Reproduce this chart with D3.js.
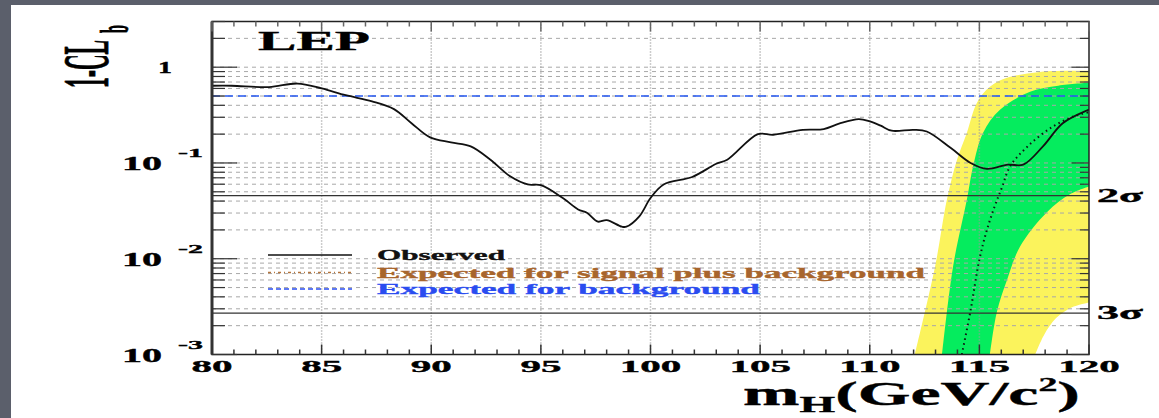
<!DOCTYPE html>
<html>
<head>
<meta charset="utf-8">
<script src="https://cdn.jsdelivr.net/npm/d3@7"></script>
<style>
  body { margin: 0; background: #5b5f6b; }
  text { font-family: "Liberation Serif", "DejaVu Serif", serif; font-weight: bold; stroke: #000; stroke-width: 0.35px; }
</style>
</head>
<body>
<div id="graph"></div>
<script>
// LEP 1-CLb vs Higgs mass

// observed 1-CLb
const obsMass = [80.0, 80.9, 82.6, 83.9, 85.0, 86.1, 87.3, 88.3, 89.1, 89.95, 90.9, 91.8, 92.7, 93.6, 94.4, 95.0,
    96.0, 96.7, 97.1, 97.6, 98.0, 98.7, 98.9, 99.5, 100.0, 100.6, 101.9, 103.0, 103.5, 104.9, 105.6, 106.95,
    107.9, 108.6, 109.5, 110.0, 110.5, 111.0, 112.0, 112.6, 113.7, 114.6, 115.35, 116.3, 117.0, 117.9, 118.8, 119.9, 120.0];
const obsCLb = [0.64, 0.64, 0.62, 0.675, 0.60, 0.51, 0.44, 0.365, 0.26, 0.185, 0.164, 0.149, 0.108, 0.0725, 0.0596, 0.0586,
    0.043, 0.0327, 0.0302, 0.0244, 0.0253, 0.0216, 0.0216, 0.0279, 0.043, 0.0597, 0.0714, 0.098, 0.108, 0.20, 0.197, 0.222,
    0.226, 0.257, 0.287, 0.272, 0.245, 0.217, 0.222, 0.213, 0.143, 0.10, 0.0867, 0.096, 0.096, 0.149, 0.26, 0.353, 0.36];

// expected for signal plus background
const sbMass = [114.2, 114.6, 115.0, 115.35, 115.7, 116.03, 116.4, 117.2, 118.35, 119.3, 120.0];
const sbCLb = [0.001, 0.0029, 0.0098, 0.0202, 0.0354, 0.0555, 0.092, 0.149, 0.24, 0.306, 0.34];

// expected for background
const bkgCLb = 0.5;

// 2 sigma band (yellow): left/top edge and right/bottom edge
const yellowLeftMass = [112.06, 112.98, 113.52, 113.98, 114.43, 114.89, 115.48, 116.26, 117.76, 120.0];
const yellowLeftCLb = [0.001, 0.0083, 0.0415, 0.108, 0.207, 0.425, 0.624, 0.774, 0.893, 0.915];
const yellowRightMass = [117.55, 117.95, 118.5, 119.2, 120.0];
const yellowRightCLb = [0.001, 0.0016, 0.0024, 0.0031, 0.0035];

// 1 sigma band (green)
const greenLeftMass = [113.3, 113.8, 114.43, 114.71, 115.17, 115.94, 117.31, 118.6, 120.0];
const greenLeftCLb = [0.001, 0.0083, 0.0415, 0.0915, 0.207, 0.359, 0.553, 0.64, 0.686];
const greenRightMass = [115.48, 115.8, 116.26, 116.85, 118.08, 119.13, 120.0];
const greenRightCLb = [0.001, 0.0028, 0.006, 0.0133, 0.0305, 0.047, 0.0567];

const sigmaCLb = [0.0455, 0.0027];
const sigmaLabels = ["2σ", "3σ"];

const xMajorTicks = [80, 85, 90, 95, 100, 105, 110, 115, 120];
const yMajorTicks = [0.001, 0.01, 0.1, 1];
const yTickSup = ["-3", "-2", "-1", ""];

const legendLabels = ["Observed", "Expected for signal plus background", "Expected for background"];

const width = 1159, height = 418;
const plot = {left: 212, right: 1089, top: 21.5, bottom: 354.5};

let svg = d3.select("#graph")
    .append("svg")
    .attr("width", width)
    .attr("height", height);

// white page on the gray slide
svg.append("rect").attr("x", 11).attr("y", 5).attr("width", width - 11).attr("height", height - 5).attr("fill", "#fff");

let x = d3.scaleLinear().domain([80, 120]).range([plot.left, plot.right]);
let y = d3.scaleLog().domain([0.001, 3]).range([plot.bottom, plot.top]);

svg.append("clipPath").attr("id", "clip")
    .append("rect")
    .attr("x", plot.left).attr("y", plot.top)
    .attr("width", plot.right - plot.left).attr("height", plot.bottom - plot.top);

let inner = svg.append("g").attr("clip-path", "url(#clip)");

let crLine = d3.line().x(d => x(d[0])).y(d => y(d[1])).curve(d3.curveCatmullRom);

function bandPath(lm, lv, rm, rv) {
    let left = lm.map((m, i) => [m, lv[i]]);
    let right = rm.map((m, i) => [m, rv[i]]).reverse();
    return crLine(left) + crLine(right).replace(/^M/, "L") + "Z";
}

inner.append("path")
    .attr("d", bandPath(yellowLeftMass, yellowLeftCLb, yellowRightMass, yellowRightCLb))
    .attr("fill", "#fbf35c");
inner.append("path")
    .attr("d", bandPath(greenLeftMass, greenLeftCLb, greenRightMass, greenRightCLb))
    .attr("fill", "#05ec5e");

// minor log ticks
let yMinor = [];
for (let p = -3; p <= 0; p++) {
    for (let k = 2; k <= 9; k++) {
        let v = k * Math.pow(10, p);
        if (v <= 3) yMinor.push(v);
    }
}

// horizontal grid
inner.selectAll(".hgrid")
    .data(yMajorTicks.concat(yMinor))
    .enter().append("line")
    .attr("x1", plot.left).attr("x2", plot.right)
    .attr("y1", d => y(d)).attr("y2", d => y(d))
    .attr("stroke", "#a8a8a8").attr("stroke-width", 1)
    .attr("stroke-dasharray", "4,4");

// vertical grid
inner.selectAll(".vgrid")
    .data(xMajorTicks.slice(1, -1))
    .enter().append("line")
    .attr("x1", d => x(d)).attr("x2", d => x(d))
    .attr("y1", plot.top).attr("y2", plot.bottom)
    .attr("stroke", "#999").attr("stroke-width", 1.5)
    .attr("stroke-dasharray", "1,2");

// sigma lines
inner.selectAll(".sigma")
    .data(sigmaCLb)
    .enter().append("line")
    .attr("x1", plot.left).attr("x2", plot.right)
    .attr("y1", d => y(d)).attr("y2", d => y(d))
    .attr("stroke", "#333").attr("stroke-width", 1.2);

// background expectation
inner.append("line")
    .attr("x1", plot.left).attr("x2", plot.right)
    .attr("y1", y(bkgCLb)).attr("y2", y(bkgCLb))
    .attr("stroke", "#2457f0").attr("stroke-width", 1.3)
    .attr("stroke-dasharray", "8,5");

// signal plus background expectation (dotted)
inner.append("path")
    .attr("d", crLine(sbMass.map((m, i) => [m, sbCLb[i]])))
    .attr("fill", "none").attr("stroke", "#111").attr("stroke-width", 2)
    .attr("stroke-dasharray", "1.5,3.5");

// observed
inner.append("path")
    .attr("d", crLine(obsMass.map((m, i) => [m, obsCLb[i]])))
    .attr("fill", "none").attr("stroke", "#111").attr("stroke-width", 1.8);

// frame
svg.append("rect")
    .attr("x", plot.left).attr("y", plot.top)
    .attr("width", plot.right - plot.left).attr("height", plot.bottom - plot.top)
    .attr("fill", "none").attr("stroke", "#222").attr("stroke-width", 1.5);
svg.append("line")
    .attr("x1", plot.left).attr("x2", plot.left)
    .attr("y1", plot.top).attr("y2", plot.bottom)
    .attr("stroke", "#333").attr("stroke-width", 3);

// y ticks left and right
let yTicks = yMajorTicks.map(v => ({v: v, len: 25})).concat(yMinor.map(v => ({v: v, len: 13})));
svg.selectAll(".ytickL").data(yTicks).enter().append("line")
    .attr("x1", plot.left).attr("x2", d => plot.left + d.len)
    .attr("y1", d => y(d.v)).attr("y2", d => y(d.v))
    .attr("stroke", "#333").attr("stroke-width", 1.2);
svg.selectAll(".ytickR").data(yTicks).enter().append("line")
    .attr("x1", plot.right).attr("x2", d => plot.right - d.len * 0.7)
    .attr("y1", d => y(d.v)).attr("y2", d => y(d.v))
    .attr("stroke", "#333").attr("stroke-width", 1.2);

// x ticks bottom and top
let xTicks = d3.range(80, 121).map(m => ({m: m, len: m % 5 === 0 ? 10 : 5}));
svg.selectAll(".xtickB").data(xTicks).enter().append("line")
    .attr("x1", d => x(d.m)).attr("x2", d => x(d.m))
    .attr("y1", plot.bottom).attr("y2", d => plot.bottom - d.len)
    .attr("stroke", "#333").attr("stroke-width", 1.5);
svg.selectAll(".xtickT").data(xTicks).enter().append("line")
    .attr("x1", d => x(d.m)).attr("x2", d => x(d.m))
    .attr("y1", plot.top).attr("y2", d => plot.top + d.len)
    .attr("stroke", "#666").attr("stroke-width", 1.5);

// x tick labels
svg.selectAll(".xlab").data(xMajorTicks).enter().append("text")
    .attr("x", d => x(d)).attr("y", 372)
    .attr("text-anchor", "middle")
    .attr("font-size", 17)
    .attr("textLength", d => String(d).length * 20.5)
    .attr("lengthAdjust", "spacingAndGlyphs")
    .text(d => d);

// y tick labels
yMajorTicks.forEach(function (v, i) {
    if (v === 1) {
        svg.append("text").attr("x", 158).attr("y", y(v) + 6)
            .attr("font-size", 16).attr("textLength", 14).attr("lengthAdjust", "spacingAndGlyphs")
            .text("1");
        return;
    }
    svg.append("text").attr("x", 122).attr("y", y(v) + 7)
        .attr("font-size", 18).attr("textLength", 40).attr("lengthAdjust", "spacingAndGlyphs")
        .text("10");
    svg.append("text").attr("x", 178).attr("y", y(v) - 6)
        .attr("font-size", 13).attr("textLength", 25).attr("lengthAdjust", "spacingAndGlyphs")
        .text(yTickSup[i]);
});

// sigma labels
svg.selectAll(".slab").data(sigmaCLb).enter().append("text")
    .attr("x", 1097).attr("y", d => y(d) + 6)
    .attr("font-size", 18).attr("textLength", 46).attr("lengthAdjust", "spacingAndGlyphs")
    .text((d, i) => sigmaLabels[i]);

// LEP
svg.append("text").attr("x", 258).attr("y", 50)
    .attr("font-size", 27).attr("textLength", 112).attr("lengthAdjust", "spacingAndGlyphs")
    .text("LEP");

// legend
let legendY = [255, 272.5, 289];
let legendColors = ["#111", "#a8652c", "#2a4cf0"];
let legendDash = [null, "3,3,1,3", "5,3"];
let legendWidths = [128, 548, 383];
legendLabels.forEach(function (lab, i) {
    svg.append("line")
        .attr("x1", 268).attr("x2", 352)
        .attr("y1", legendY[i]).attr("y2", legendY[i])
        .attr("stroke", i === 1 ? "#b4733a" : legendColors[i])
        .attr("stroke-width", i === 0 ? 1.5 : 1.3)
        .attr("stroke-dasharray", legendDash[i]);
    svg.append("text")
        .attr("x", 377).attr("y", legendY[i] + 5)
        .attr("font-size", 15)
        .attr("fill", legendColors[i])
        .style("stroke", legendColors[i])
        .attr("textLength", legendWidths[i]).attr("lengthAdjust", "spacingAndGlyphs")
        .text(lab);
});

// x-axis title
let xt = svg.append("text").attr("x", 743).attr("y", 405).attr("font-size", 34);
xt.append("tspan").text("m");
xt.append("tspan").attr("font-size", 23).attr("dy", 7).text("H");
xt.append("tspan").attr("dy", -7).text("(GeV/c");
xt.append("tspan").attr("font-size", 19).attr("dy", -14).text("2");
xt.append("tspan").attr("dy", 14).text(")");
let bb = xt.node().getBBox();
let sx = 337 / bb.width;
xt.attr("transform", `translate(743,0) scale(${sx},1) translate(-743,0)`);

// y-axis title, rotated and stretched
let yt = svg.append("g").attr("transform", "translate(108,88) scale(3,1) rotate(-90)");
yt.append("text").attr("x", 0).attr("y", 0)
    .attr("font-size", 22).attr("textLength", 48).attr("lengthAdjust", "spacingAndGlyphs")
    .style("stroke-width", "0.25px")
    .text("1-CL");
yt.append("text").attr("x", 55).attr("y", 6.7)
    .attr("font-size", 13).attr("textLength", 8).attr("lengthAdjust", "spacingAndGlyphs")
    .style("stroke-width", "0.25px")
    .text("b");
</script>
</body>
</html>
